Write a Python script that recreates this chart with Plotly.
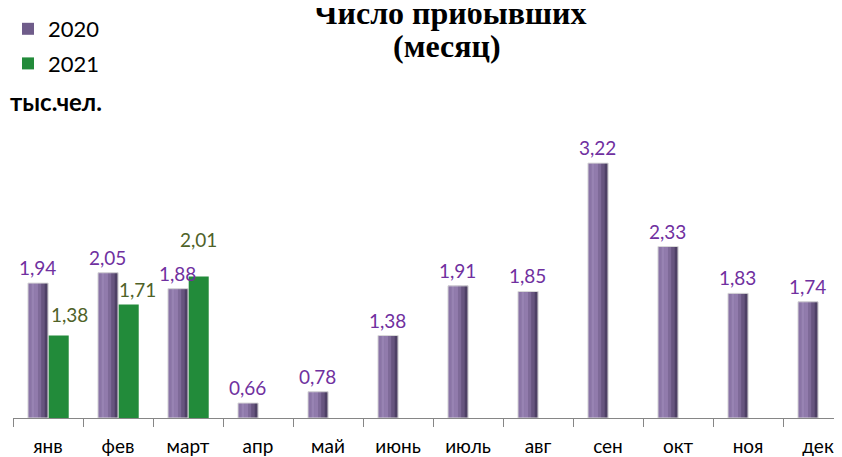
import plotly.graph_objects as go

months = ["янв", "фев", "март", "апр", "май", "июнь", "июль", "авг", "сен", "окт", "ноя", "дек"]
v2020 = [1.94, 2.05, 1.88, 0.66, 0.78, 1.38, 1.91, 1.85, 3.22, 2.33, 1.83, 1.74]
months2021 = ["янв", "фев", "март"]
v2021 = [1.38, 1.71, 2.01]

# label offsets (pixels) for 2021 labels, as placed in the original
lbl21_dx = [21, 19, 10]
lbl21_dy = [8, 2, 23]


def fmt(v):
    return f"{v:.2f}".replace(".", ",")


BASE = 0.5
BW = 0.286
purple_main = "#6f5c8a"
strip_colors = ["#8a74a6", "#9883b3", "#917bac", "#7e6a98", "#67557f", "#4e4065"]
green = "#228b3a"
FIG_W, FIG_H = 834, 449
L, T, B = 5, 82, 36

fig = go.Figure()

fig.add_trace(go.Bar(
    x=months, y=[v - BASE for v in v2020], base=BASE,
    offset=-BW, width=BW, marker=dict(color=purple_main, line=dict(width=0)),
    name="2020", legendgroup="a", showlegend=True, hoverinfo="skip"))
n = len(strip_colors)
for i, c in enumerate(strip_colors):
    fig.add_trace(go.Bar(
        x=months, y=[v - BASE for v in v2020], base=BASE,
        offset=-BW + i * BW / n, width=BW / n + 0.002,
        marker=dict(color=c, line=dict(width=0)),
        showlegend=False, hoverinfo="skip"))
fig.add_trace(go.Bar(
    x=months, y=[v - BASE for v in v2020], base=BASE,
    offset=-BW, width=BW,
    marker=dict(color="rgba(0,0,0,0)", line=dict(color="#d9d9d9", width=1)),
    showlegend=False, hoverinfo="skip"))

fig.add_trace(go.Bar(
    x=months2021, y=[v - BASE for v in v2021], base=BASE,
    offset=0.01, width=BW, marker=dict(color=green, line=dict(width=0)),
    name="2021", legendgroup="b", showlegend=True, hoverinfo="skip"))

for m, v in zip(months, v2020):
    fig.add_annotation(x=m, y=v, text=fmt(v), showarrow=False, xref="x", yref="y",
                       xanchor="center", yanchor="bottom", xshift=-11, yshift=2,
                       font=dict(family="Lato", size=19, color="#7030a0"))
for m, v, dx, dy in zip(months2021, v2021, lbl21_dx, lbl21_dy):
    fig.add_annotation(x=m, y=v, text=fmt(v), showarrow=False, xref="x", yref="y",
                       xanchor="center", yanchor="bottom", xshift=dx, yshift=dy,
                       font=dict(family="Lato", size=19, color="#4f6228"))

fig.add_annotation(x=0, y=1, xref="paper", yref="paper", text="<b>тыс.чел.</b>",
                   showarrow=False, xanchor="left", yanchor="middle",
                   xshift=-5, yshift=-11,
                   font=dict(family="Lato", size=24, color="#000000"))

fig.add_annotation(x=0.5, y=1, xref="paper", yref="paper", text="<b>Число прибывших</b>",
                   showarrow=False, xanchor="center", yanchor="middle",
                   xshift=22, yshift=77,
                   font=dict(family="Liberation Serif", size=32, color="#000000"))
fig.add_annotation(x=0.5, y=1, xref="paper", yref="paper", text="<b>(месяц)</b>",
                   showarrow=False, xanchor="center", yanchor="middle",
                   xshift=19, yshift=44,
                   font=dict(family="Liberation Serif", size=32, color="#000000"))

fig.update_layout(
    width=FIG_W, height=FIG_H,
    margin=dict(l=L, r=0, t=T, b=B),
    paper_bgcolor="white", plot_bgcolor="white",
    barmode="overlay",
    showlegend=True,
    legend=dict(x=-0.018, y=1.013, xref="paper", yref="container", xanchor="left", yanchor="top",
                font=dict(family="Lato", size=22, color="#000000"),
                tracegroupgap=3, traceorder="grouped", itemwidth=30,
                bgcolor="rgba(0,0,0,0)"),
    xaxis=dict(type="category", categoryorder="array", categoryarray=months,
               range=[-0.5, -0.5 + (FIG_W - L) / 70], showgrid=False, zeroline=False,
               showline=True, linecolor="#868686", linewidth=1,
               ticks="outside", tickson="boundaries", ticklen=8, tickcolor="#868686",
               ticklabelstandoff=11,
               tickfont=dict(family="Lato", size=19, color="#000000")),
    yaxis=dict(range=[BASE, 4.0], visible=False, showgrid=False, zeroline=False),
)

fig.write_html("out.html")
